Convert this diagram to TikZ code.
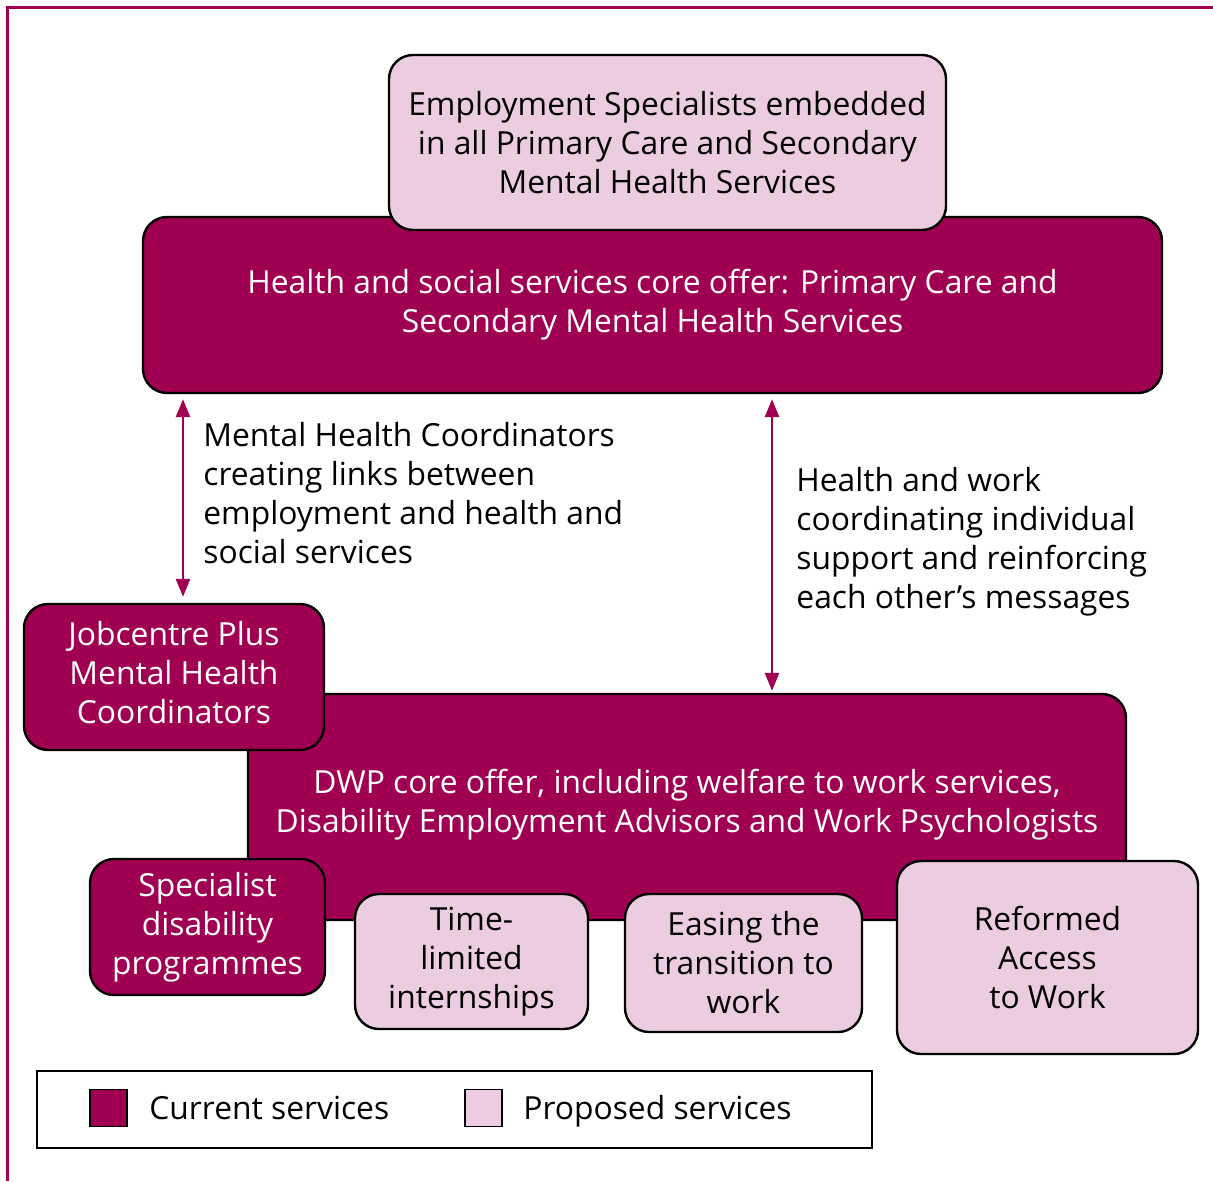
\documentclass[tikz,border=0pt]{standalone}
\usepackage{fontspec}
\setmainfont{Open Sans}
\usetikzlibrary{arrows.meta}
\definecolor{plum}{RGB}{160,0,82}
\definecolor{blush}{RGB}{235,204,224}
\tikzstyle{current} = [rectangle, rounded corners=12pt, draw=black, line width=1.2pt, fill=plum, text=white, align=center, inner sep=2pt, font=\fontsize{15.9}{19.5}\selectfont]
\tikzstyle{proposed} = [rectangle, rounded corners=12pt, draw=black, line width=1.2pt, fill=blush, text=black, align=center, inner sep=2pt, font=\fontsize{15.9}{19.5}\selectfont]
\tikzstyle{note} = [align=left, inner sep=0pt, anchor=north west, font=\fontsize{15.9}{19.5}\selectfont]
\tikzstyle{swatch} = [rectangle, draw=black, line width=0.8pt, minimum size=18.5pt, inner sep=0pt]
\tikzstyle{keytext} = [anchor=base west, inner sep=0pt, font=\fontsize{15.9}{19.5}\selectfont]
\tikzstyle{link} = [plum, line width=1.3pt, {Triangle[width=7pt,length=9pt]}-{Triangle[width=7pt,length=9pt]}]

\begin{document}
\begin{tikzpicture}[x=0.5pt, y=-0.5pt]
\useasboundingbox (0,0) rectangle (1213,1181);

% frame
\draw [plum, line width=1.5pt] (7,1181) -- (7,8) -- (1213,8);

% health side
\node (core) [current, minimum width=509.5pt, minimum height=88pt] at (652.5,305) {Health and social services core offer: Primary Care and\\Secondary Mental Health Services};
\node (embed) [proposed, minimum width=278.5pt, minimum height=87.5pt] at (667.5,142.5) {Employment Specialists embedded\\in all Primary Care and Secondary\\Mental Health Services};

% DWP side
\node (dwp) [current, minimum width=439pt, minimum height=113pt, text depth=6pt] at (687,807) {DWP core offer, including welfare to work services,\\Disability Employment Advisors and Work Psychologists};
\node (jcp) [current, minimum width=150pt, minimum height=73pt, text depth=5pt] at (174,677) {Jobcentre Plus\\Mental Health\\Coordinators};
\node (spec) [current, minimum width=117.5pt, minimum height=68pt] at (207.5,927) {Specialist\\disability\\programmes};
\node (intern) [proposed, minimum width=116.5pt, minimum height=67.5pt] at (471.5,961.5) {Time-\\limited\\internships};
\node (ease) [proposed, minimum width=118.5pt, minimum height=69pt] at (743.5,963) {Easing the\\transition to\\work};
\node (atw) [proposed, minimum width=150.5pt, minimum height=96.5pt] at (1047.5,957.5) {Reformed\\Access\\to Work};

% links
\coordinate (leftlink) at (183,0);
\coordinate (rightlink) at (772,0);
\draw [link, shorten <=2.5pt, shorten >=3pt] (core.south -| leftlink) -- (jcp.north -| leftlink);
\draw [link, shorten <=2.5pt, shorten >=1pt] (core.south -| rightlink) -- (dwp.north -| rightlink);
\node (mhc) [note] at (203,422) {Mental Health Coordinators\\creating links between\\employment and health and\\social services};
\node (hw) [note] at (796,467) {Health and work\\coordinating individual\\support and reinforcing\\each other’s messages};

% key
\node (key) [rectangle, draw=black, line width=1pt, minimum width=417.5pt, minimum height=38.5pt] at (454.5,1109.5) {};
\node (curbox) [swatch, fill=plum] at (108.5,1108) {};
\node (curtext) [keytext] at (149,1119) {Current services};
\node (probox) [swatch, fill=blush] at (483.5,1108) {};
\node (protext) [keytext] at (523,1119) {Proposed services};

\end{tikzpicture}
\end{document}
